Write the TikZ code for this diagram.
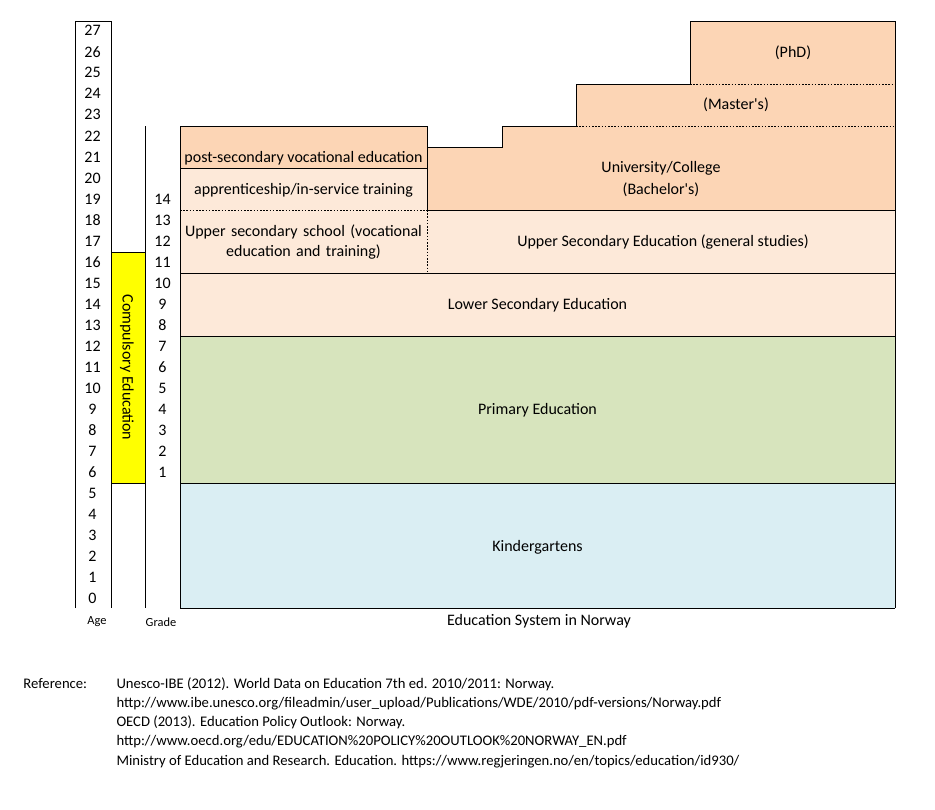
\documentclass[tikz,border=0pt]{standalone}
\usepackage{fontspec}
\setmainfont{Carlito}[Ligatures=TeXOff]
\definecolor{kgblue}{HTML}{DAEEF3}
\definecolor{primgreen}{HTML}{D7E4BD}
\definecolor{lightpeach}{HTML}{FDE9D9}
\definecolor{peach}{HTML}{FCD5B5}
\definecolor{compyellow}{HTML}{FFFF00}
\begin{document}
\begin{tikzpicture}[x=0.75pt,y=-0.75pt,
  line width=0.75pt,
  dotline/.style={dash pattern=on 1.2pt off 1.2pt},
  lbl/.style={font=\fontsize{12}{14}\selectfont, inner sep=0pt, align=center},
  num/.style={font=\fontsize{12}{14}\selectfont, inner sep=0pt},
  small/.style={font=\fontsize{9.3}{11}\selectfont, inner sep=0pt},
  ref/.style={font=\fontsize{11}{13}\selectfont, inner sep=0pt, anchor=west}]
\useasboundingbox (0,0) rectangle (935,810);
% fills
\fill[kgblue] (180,483) rectangle (895,608);
\fill[primgreen] (180,336) rectangle (895,483);
\fill[lightpeach] (180,210) rectangle (895,336);
\fill[lightpeach] (180,168) rectangle (427,210);
\fill[peach] (180,126) rectangle (427,168);
\fill[peach] (427,210) -- (427,147) -- (502,147) -- (502,126) -- (895,126) -- (895,210) -- cycle;
\fill[peach] (576,84) rectangle (895,126);
\fill[peach] (690,21) rectangle (895,84);
\fill[compyellow] (111,252) rectangle (145,483);
% age / grade columns
\draw (75,608) -- (75,21) -- (111,21) -- (111,608);
\draw (145,126) -- (145,608);
\draw (111,252) rectangle (145,483);
% main blocks outlines
\draw (180,608) -- (895,608);
\draw (180,483) -- (895,483);
\draw (180,336) -- (895,336);
\draw (180,273) -- (895,273);
\draw (427,210) -- (895,210);
\draw[dotline] (180,210) -- (427,210);
\draw[dotline] (427,210) -- (427,273);
\draw (180,168) -- (427,168);
\draw (180,608) -- (180,126) -- (427,126) -- (427,210);
\draw (427,147) -- (502,147) -- (502,126) -- (576,126) -- (576,84) -- (690,84) -- (690,21) -- (895,21) -- (895,608);
\draw[dotline] (576,126) -- (895,126);
\draw[dotline] (690,84) -- (895,84);
% ages
\foreach \k in {0,...,27} {
  \node[num] (age\k) at (92.5,{609-21.03*(\k+0.5)}) {\k};
}
% grades
\foreach \g in {1,...,14} {
  \node[num] (grade\g) at (162.5,{609-21.03*(\g+5.5)}) {\g};
}
\node[lbl, rotate=-90] (compulsory) at (127,367.5) {Compulsory Education};
\node[small] (agelbl) at (97,622) {Age};
\node[small] (gradelbl) at (161,622) {Grade};
% block labels
\node[lbl] (kinder) at (537.5,547) {Kindergartens};
\node[lbl] (primary) at (537.5,410) {Primary Education};
\node[lbl] (lowersec) at (537.5,305) {Lower Secondary Education};
\node[lbl] (uppergen) at (663,242) {Upper Secondary Education (general studies)};
\node[lbl, text width=240pt] (uppervoc) at (303.5,242.5) {Upper secondary school (vocational\\[1pt] education and training)};
\node[lbl] (appr) at (303.5,190) {apprenticeship/in-service training};
\node[lbl] (postsec) at (303.5,158) {post-secondary vocational education};
\node[lbl] (univ) at (661,179) {University/College\\[3pt](Bachelor's)};
\node[lbl] (master) at (736,105) {(Master's)};
\node[lbl] (phd) at (793,53) {(PhD)};
\node[lbl] (title) at (539,621) {Education System in Norway};
% references
\node[ref] (reflbl) at (23,684) {Reference:};
\node[ref] (r1) at (116,684) {Unesco-IBE (2012). World Data on Education 7th ed. 2010/2011: Norway.};
\node[ref] (r2) at (116,703.3) {http://www.ibe.unesco.org/fileadmin/user\_upload/Publications/WDE/2010/pdf-versions/Norway.pdf};
\node[ref] (r3) at (116,722.6) {OECD (2013). Education Policy Outlook: Norway.};
\node[ref] (r4) at (116,741.9) {http://www.oecd.org/edu/EDUCATION\%20POLICY\%20OUTLOOK\%20NORWAY\_EN.pdf};
\node[ref] (r5) at (116,761.2) {Ministry of Education and Research. Education. https://www.regjeringen.no/en/topics/education/id930/};
\end{tikzpicture}
\end{document}
